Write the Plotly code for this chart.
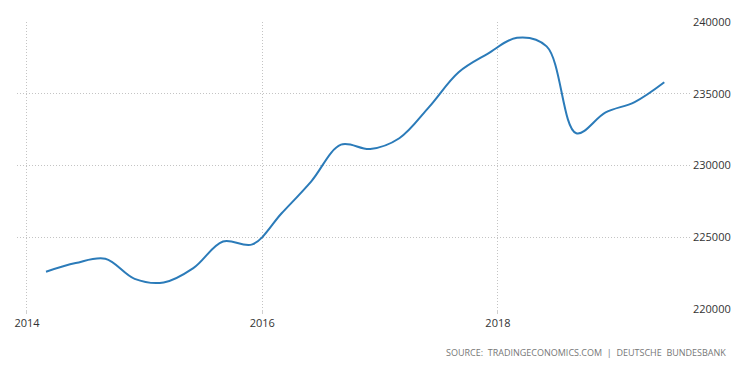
import plotly.graph_objects as go

dates = ["2014-03-01", "2014-06-01", "2014-09-01", "2014-12-01",
         "2015-03-01", "2015-06-01", "2015-09-01", "2015-12-01",
         "2016-03-01", "2016-06-01", "2016-09-01", "2016-12-01",
         "2017-03-01", "2017-06-01", "2017-09-01", "2017-12-01",
         "2018-03-01", "2018-06-01", "2018-09-01", "2018-12-01",
         "2019-03-01", "2019-06-01"]
values = [222600, 223200, 223500, 222100,
          221850, 222850, 224700, 224500,
          226670, 228900, 231450, 231150,
          231900, 234070, 236500, 237800,
          238900, 238300, 232250, 233700,
          234420, 235800]

y_ticks = [220000, 225000, 230000, 235000, 240000]
x_ticks = ["2014-01-01", "2016-01-01", "2018-01-01"]
x_labels = ["2014", "2016", "2018"]
source_text = "SOURCE:&nbsp; TRADINGECONOMICS.COM &nbsp;|&nbsp; DEUTSCHE&nbsp; BUNDESBANK"

fig = go.Figure()
fig.add_trace(go.Scatter(
    x=dates, y=values, mode="lines",
    line=dict(color="#2b7bb9", width=2, shape="spline", smoothing=1.0),
    hoverinfo="skip",
))

fig.update_layout(
    width=746, height=362,
    margin=dict(l=6, r=62, t=13, b=61),
    paper_bgcolor="white", plot_bgcolor="white",
    showlegend=False,
    font=dict(family="Open Sans, DejaVu Sans, sans-serif", size=11, color="#333333"),
    xaxis=dict(
        range=["2013-12-01", "2019-08-26"],
        tickvals=x_ticks, ticktext=x_labels,
        showgrid=True, gridcolor="#c4c4c4", griddash="1px,2px", gridwidth=1,
        ticks="outside", ticklen=4, tickcolor="#d0d0d0",
        showline=False, zeroline=False,
        tickfont=dict(size=11, color="#333333"),
    ),
    yaxis=dict(
        range=[220000, 240000], side="right",
        tickvals=y_ticks, ticktext=[str(v) for v in y_ticks],
        showgrid=True, gridcolor="#c4c4c4", griddash="1px,2px", gridwidth=1,
        ticks="", showline=False, zeroline=False,
        tickfont=dict(size=11, color="#333333"),
    ),
    annotations=[dict(
        text=source_text, xref="paper", yref="paper",
        x=1.053, y=-0.153, xanchor="right", yanchor="middle",
        showarrow=False, font=dict(size=9, color="#777777"),
    )],
)

fig.write_html("out.html")
